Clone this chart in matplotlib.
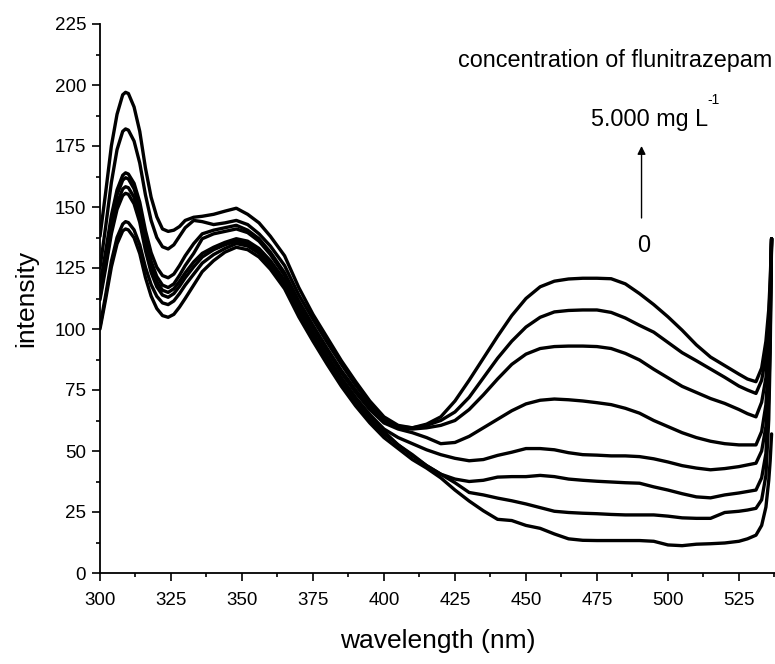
import matplotlib
matplotlib.use("Agg")
import matplotlib.pyplot as plt
from matplotlib.ticker import MultipleLocator

plt.rcParams['font.family'] = ['Liberation Sans', 'DejaVu Sans']

# wavelength grid (nm)
wavelength = [300, 302, 304, 306, 308, 309, 310, 312, 314, 316, 318, 320, 322, 324, 326, 328, 330,
              333, 336, 340, 344, 348, 352, 356, 360, 365, 370, 375, 380, 385, 390, 395, 400,
              405, 410, 415, 420, 425, 430, 435, 440, 445, 450, 455, 460, 465, 470, 475, 480,
              485, 490, 495, 500, 505, 510, 515, 520, 525, 528, 531, 533, 534.5, 535.5, 536, 536.5]

# emission spectra, from blank (i0) to highest flunitrazepam concentration (i7)
i0 = [100, 112.3, 125.4, 134.9, 140.2, 141, 140.6, 137.4, 130.9, 121.1, 113.5, 108.4, 105.5, 104.8, 106, 109, 112.5,
      118, 123.5, 128, 131.5, 133.5, 132.5, 129.5, 124.5, 116.5, 105, 95, 85.5, 76.5, 68.5, 61.5, 55.5,
      51, 46.5, 43, 39, 34, 29.5, 25.5, 22, 21.5, 19.5, 18.3, 16, 14, 13.4, 13.3, 13.3,
      13.3, 13.3, 13, 11.5, 11.2, 11.8, 12, 12.3, 13, 14, 15.5, 19.5, 27, 38, 46, 57]
i1 = [101, 114, 127.7, 137.5, 143, 144, 143.6, 140.6, 134.5, 125.3, 118.2, 113.4, 110.7, 110, 111.5, 114.5, 118,
      122.5, 127, 130.5, 133, 135, 134, 131, 126, 118, 106.5, 96.5, 87, 78, 70, 63, 57,
      52.5, 48, 44, 40.5, 37, 33, 32, 30.7, 29.6, 28.3, 26.8, 25.3, 24.8, 24.5, 24.3, 24,
      23.8, 23.8, 23.8, 23.3, 22.6, 22.4, 22.4, 24.8, 25.3, 25.8, 26.5, 30, 40, 63, 90, 137]
i2 = [112, 125, 139, 149, 154.7, 155.6, 155.2, 151.3, 143.7, 132.2, 123.2, 117.3, 113.9, 113, 114.5, 117.5, 121,
      125.5, 129.5, 132.5, 134.5, 136, 135, 132, 127, 119, 107.5, 97.5, 88, 79, 71, 64, 58,
      52.5, 48.5, 44, 40.5, 38.5, 37.5, 38, 39.3, 39.5, 39.5, 40, 39.5, 38.5, 38, 37.6, 37.3,
      37, 36.8, 35.3, 34, 32.5, 31.2, 30.8, 32, 32.8, 33.4, 34, 39, 49, 72, 97, 137]
i3 = [113, 126.6, 141, 151.5, 157.4, 158.3, 157.9, 154, 146.2, 134.5, 125.4, 119.3, 115.9, 115, 116.5, 119.5, 123,
      127.5, 131, 133.5, 135.5, 137, 136, 133, 128, 120, 108.5, 98.5, 89, 80, 72, 65, 59,
      55.5, 53, 50.5, 48.5, 47, 46, 46.5, 48.2, 49.5, 51, 51, 50.5, 49.3, 48.5, 48.3, 48,
      48, 47.7, 46.8, 45.5, 44, 43, 42.3, 42.8, 43.6, 44.3, 45, 50, 60, 80, 103, 137]
i4 = [115, 129, 144, 155, 161, 162, 161.5, 157.5, 149.4, 137.3, 127.8, 121.5, 118, 117, 118.5, 122, 126,
      131, 137, 139, 140, 141, 139.5, 136, 130.5, 122, 110.5, 100.5, 91, 82, 74, 67, 61.5,
      59, 57.5, 55.5, 53, 53.5, 56, 59.5, 63, 66.5, 69.3, 70.8, 71.3, 71, 70.5, 69.8, 69,
      67.5, 65.5, 62.5, 60, 57.5, 55.5, 54, 53, 52.5, 52.5, 52.5, 58, 69, 88, 108, 137]
i5 = [118, 131.8, 146.5, 157, 163, 164, 163.5, 159.7, 152, 140.4, 131.3, 125.3, 121.9, 121, 122.5, 126, 130,
      135, 139, 140.5, 141.5, 142.5, 140.5, 137, 131.5, 123, 111.5, 101.5, 92, 83, 75, 68, 62,
      59.5, 59, 59.5, 60.5, 62.5, 67, 73, 79.5, 85.5, 89.7, 92, 92.8, 93, 93, 92.8, 92,
      90, 87.3, 83.5, 80, 76.5, 74, 71.5, 69.5, 67, 65.3, 64, 70, 80, 97, 113, 137]
i6 = [125, 142, 160, 173.5, 181, 182, 181.5, 177, 168, 155, 144.5, 137.5, 133.7, 132.8, 134.5, 138, 141.5,
      144.5, 144, 142.8, 143.5, 144.5, 142.8, 139, 134, 126, 114, 104, 94.5, 85.5, 77, 69.5, 63,
      60, 59.5, 60.5, 62.5, 66, 72, 80, 88, 95, 100.8, 104.8, 107, 107.6, 107.8, 107.8, 106.8,
      104.5, 101.5, 98.7, 94.5, 90.3, 87, 83.6, 80.2, 76.6, 75, 73.6, 79, 89, 104, 117, 137]
i7 = [138, 156, 175, 188, 196, 197, 196.5, 191, 181, 166, 154, 146, 141, 140, 140.5, 142, 144.5,
      145.8, 146.2, 147, 148.3, 149.5, 147, 143.5, 138, 130, 117, 106, 96.5, 87, 78.5, 70.5, 64,
      60.5, 59.5, 61, 64, 70.5, 79, 88, 97, 105.5, 112.5, 117.3, 119.6, 120.5, 120.8, 120.8, 120.6,
      118.5, 114.5, 110, 105, 99.5, 93.5, 88.5, 85, 81.5, 79.5, 78.4, 84, 95, 108, 120, 137]

spectra = [i0, i1, i2, i3, i4, i5, i6, i7]

x_ticks = [300, 325, 350, 375, 400, 425, 450, 475, 500, 525]
y_ticks = [0, 25, 50, 75, 100, 125, 150, 175, 200, 225]

fig = plt.figure(figsize=(7.75, 6.64), dpi=100)
ax = fig.add_axes([100 / 775, 91 / 664, 675 / 775, 549 / 664])

for s in spectra:
    ax.plot(wavelength, s, color='black', lw=2.4, solid_joinstyle='round', solid_capstyle='round')

ax.set_xlim(300, 537.7)
ax.set_ylim(0, 225)
ax.set_xticks(x_ticks)
ax.set_yticks(y_ticks)
ax.xaxis.set_minor_locator(MultipleLocator(12.5))
ax.yaxis.set_minor_locator(MultipleLocator(12.5))
ax.tick_params(which='major', direction='out', length=6, width=1.2, labelsize=13.5, pad=8)
ax.tick_params(which='minor', direction='out', length=3, width=1.2)
ax.tick_params(axis='y', which='major', pad=4)

for side in ('top', 'right'):
    ax.spines[side].set_visible(False)
for side in ('left', 'bottom'):
    ax.spines[side].set_linewidth(1.3)

ax.set_xlabel('wavelength (nm)', fontsize=19, labelpad=14)
ax.set_ylabel('intensity', fontsize=19, labelpad=12)

ax.text(426, 210, 'concentration of flunitrazepam', fontsize=16.8, ha='left', va='center')
ax.text(472.8, 185.7, '5.000 mg L', fontsize=16.8, ha='left', va='center')
ax.text(514, 194, '-1', fontsize=10, ha='left', va='center')
ax.annotate('', xy=(490.7, 175), xytext=(490.7, 145.5),
            arrowprops=dict(arrowstyle='-|>', color='black', lw=1.0,
                            mutation_scale=12, shrinkA=0, shrinkB=0))
ax.text(491.3, 134.4, '0', fontsize=16.8, ha='center', va='center')

fig.savefig('out.png', dpi=100)
